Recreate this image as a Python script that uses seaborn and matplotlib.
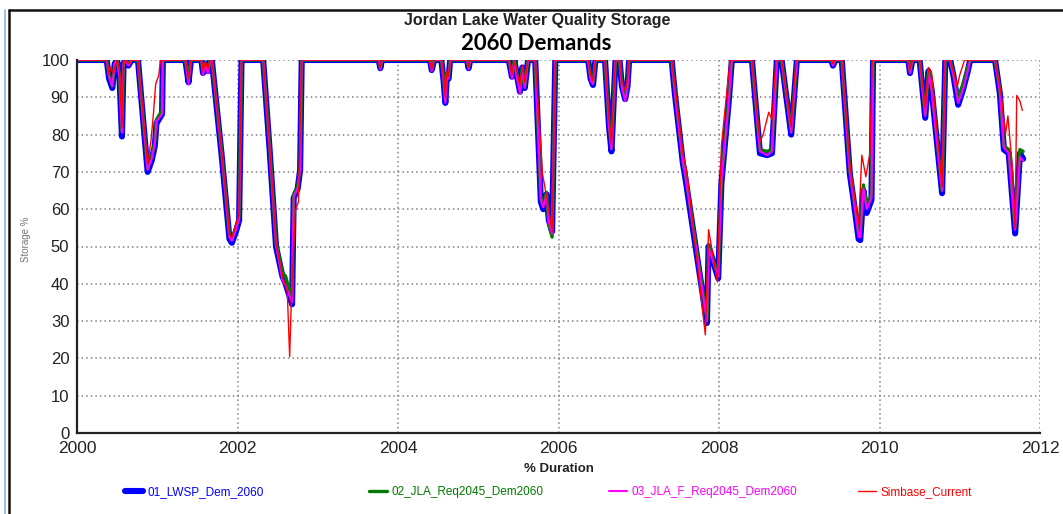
import matplotlib
matplotlib.use("Agg")
import matplotlib.pyplot as plt
from matplotlib.lines import Line2D
from matplotlib.ticker import MultipleLocator, FuncFormatter
import seaborn as sns
import pandas as pd

# ---- storage traces (decimal year, storage %) ----
lwsp_year = [2000.00, 2000.37, 2000.40, 2000.44, 2000.47, 2000.50, 2000.53, 2000.56, 2000.58, 2000.60,
             2000.64, 2000.68, 2000.76, 2000.88, 2000.93, 2000.97, 2000.99, 2001.06, 2001.07, 2001.35,
             2001.39, 2001.42, 2001.55, 2001.57, 2001.60, 2001.63, 2001.66, 2001.68, 2001.80, 2001.90,
             2001.93, 2001.98, 2002.02, 2002.05, 2002.32, 2002.40, 2002.48, 2002.56, 2002.60, 2002.68,
             2002.70, 2002.75, 2002.78, 2002.80, 2003.76, 2003.78, 2003.80, 2004.40, 2004.42, 2004.45,
             2004.54, 2004.57, 2004.59, 2004.61, 2004.63, 2004.65, 2004.86, 2004.88, 2004.90, 2005.38,
             2005.42, 2005.45, 2005.48, 2005.52, 2005.55, 2005.58, 2005.62, 2005.71, 2005.78, 2005.81,
             2005.85, 2005.88, 2005.92, 2005.96, 2006.37, 2006.40, 2006.43, 2006.46, 2006.58, 2006.63,
             2006.66, 2006.69, 2006.71, 2006.76, 2006.79, 2006.83, 2006.86, 2006.88, 2007.41, 2007.45,
             2007.55, 2007.58, 2007.85, 2007.87, 2007.99, 2008.03, 2008.12, 2008.16, 2008.41, 2008.51,
             2008.60, 2008.66, 2008.72, 2008.78, 2008.90, 2008.97, 2009.40, 2009.42, 2009.45, 2009.53,
             2009.63, 2009.67, 2009.74, 2009.76, 2009.80, 2009.84, 2009.90, 2009.92, 2010.36, 2010.38,
             2010.41, 2010.50, 2010.57, 2010.61, 2010.65, 2010.78, 2010.82, 2010.88, 2010.92, 2010.98,
             2011.04, 2011.10, 2011.13, 2011.44, 2011.50, 2011.55, 2011.61, 2011.69, 2011.75, 2011.79]
lwsp_pct = [100, 100, 95, 92.5, 99, 100, 95, 79.5, 99, 100,
            98.5, 100, 100, 70, 73, 77, 83, 85.5, 100, 100,
            94, 100, 100, 96.5, 99, 97, 100, 100, 75, 52,
            51, 54, 57, 100, 100, 76, 50, 42, 40, 34.5,
            63, 65.5, 70.5, 100, 100, 97.8, 100, 100, 97.3, 100,
            100, 94, 88.5, 96, 95, 100, 100, 97.8, 100, 100,
            95.5, 100, 96, 91.5, 98, 92.5, 100, 100, 62, 60,
            64, 57, 54, 100, 100, 95, 93.3, 100, 100, 82,
            75.5, 90, 100, 100, 93, 89.5, 93, 100, 100, 91,
            72.3, 68.5, 29.5, 50, 41.5, 67, 88.5, 100, 100, 75,
            74.5, 75, 100, 100, 80, 100, 100, 98.5, 100, 100,
            69.5, 63.5, 52, 51.7, 65, 59, 62.5, 100, 100, 96.5,
            100, 100, 84.5, 97, 92, 64.3, 100, 100, 96, 88,
            92, 97, 100, 100, 91, 76, 75, 53.5, 75, 73.5]

jla_year = list(lwsp_year)
jla_pct = [100, 100, 96, 93, 99, 100, 96, 81, 99, 100,
           99, 100, 100, 71, 74, 78, 84, 86.5, 100, 100,
           95, 100, 100, 97, 99, 97.5, 100, 100, 76, 53,
           52, 55, 58, 100, 100, 77, 51, 43, 42, 35.5,
           64, 66, 71, 100, 100, 98, 100, 100, 97.5, 100,
           100, 95, 89.5, 96.5, 95.5, 100, 100, 98, 100, 100,
           96, 100, 96.5, 92.5, 98, 93, 100, 100, 63, 61,
           64.5, 56, 52.5, 100, 100, 95.5, 94, 100, 100, 83,
           76.5, 90.5, 100, 100, 93.5, 90.5, 93.5, 100, 100, 92,
           73, 69.5, 30.5, 50.5, 42, 68, 89, 100, 100, 76,
           75.5, 76, 100, 100, 81, 100, 100, 99, 100, 100,
           70.5, 64.5, 53.5, 53, 66.5, 61, 64, 100, 100, 97,
           100, 100, 85.5, 97.5, 93.5, 65, 100, 100, 96.5, 90,
           93.5, 98, 100, 100, 92, 77, 76, 55, 76, 75.5]

jla_f_year = list(lwsp_year)
jla_f_pct = [100, 100, 95.5, 93, 99, 100, 95.5, 80.5, 99, 100,
             98.5, 100, 100, 70.5, 73.5, 77.5, 83.5, 85.5, 100, 100,
             93.5, 100, 100, 96, 99, 96.5, 100, 100, 75.5, 52.5,
             51.5, 54.5, 57.5, 100, 100, 76.5, 50.5, 41, 39.5, 35,
             63.5, 65.5, 70.5, 100, 100, 97.5, 100, 100, 97, 100,
             100, 94, 88.5, 96, 95, 100, 100, 97.5, 100, 100,
             95, 100, 95.5, 91, 98, 92.5, 100, 100, 62.5, 60.5,
             64, 56.5, 53.5, 100, 100, 94.5, 93.5, 100, 100, 82,
             76, 90, 100, 100, 92.5, 89, 92.5, 100, 100, 91,
             72.5, 69, 30, 49.5, 42, 67.5, 88.5, 100, 100, 75.5,
             74.5, 75.5, 100, 100, 80.5, 100, 100, 98.5, 100, 100,
             70, 64, 52.5, 52.5, 65.5, 60, 63, 100, 100, 96.5,
             100, 100, 85, 97, 91.5, 65, 100, 100, 96, 88.5,
             92, 97, 100, 100, 91.5, 76.5, 75, 54.5, 74, 73]

sim_year = [2000.00, 2000.37, 2000.40, 2000.42, 2000.45, 2000.50, 2000.53, 2000.56, 2000.58, 2000.60,
            2000.64, 2000.68, 2000.76, 2000.88, 2000.92, 2000.95, 2000.98, 2001.02, 2001.04, 2001.35,
            2001.39, 2001.42, 2001.55, 2001.57, 2001.60, 2001.63, 2001.66, 2001.68, 2001.80, 2001.90,
            2001.93, 2001.98, 2002.02, 2002.05, 2002.32, 2002.40, 2002.48, 2002.56, 2002.62, 2002.65,
            2002.67, 2002.72, 2002.76, 2002.80, 2003.76, 2003.78, 2003.80, 2004.40, 2004.42, 2004.45,
            2004.54, 2004.57, 2004.59, 2004.61, 2004.63, 2004.65, 2004.86, 2004.88, 2004.90, 2005.38,
            2005.42, 2005.45, 2005.48, 2005.52, 2005.55, 2005.58, 2005.62, 2005.71, 2005.80, 2005.83,
            2005.86, 2005.89, 2005.92, 2005.96, 2006.37, 2006.40, 2006.43, 2006.46, 2006.58, 2006.63,
            2006.66, 2006.69, 2006.71, 2006.76, 2006.79, 2006.83, 2006.86, 2006.88, 2007.41, 2007.45,
            2007.55, 2007.60, 2007.83, 2007.87, 2007.98, 2008.03, 2008.10, 2008.14, 2008.41, 2008.51,
            2008.55, 2008.62, 2008.66, 2008.71, 2008.78, 2008.90, 2008.96, 2009.40, 2009.42, 2009.45,
            2009.53, 2009.63, 2009.67, 2009.74, 2009.78, 2009.83, 2009.88, 2009.91, 2010.36, 2010.38,
            2010.41, 2010.50, 2010.57, 2010.61, 2010.65, 2010.78, 2010.82, 2010.88, 2010.92, 2010.97,
            2011.00, 2011.03, 2011.06, 2011.44, 2011.50, 2011.52, 2011.57, 2011.60, 2011.66, 2011.69,
            2011.71, 2011.75, 2011.78]
sim_pct = [100, 100, 96, 98, 96.5, 100, 97, 82, 99, 100,
           99, 100, 100, 72, 78, 85, 93.5, 96, 100, 100,
           95, 100, 100, 97, 99.5, 97.5, 100, 100, 76, 53,
           52.5, 56, 58.5, 100, 100, 77, 51, 42, 38, 20.5,
           35, 59.5, 62, 100, 100, 98, 100, 100, 97.5, 100,
           100, 95, 90, 97, 95.5, 100, 100, 98, 100, 100,
           96, 100, 97, 93, 98.5, 94, 100, 100, 69.5, 66,
           62, 58, 54, 100, 100, 96, 94.5, 100, 100, 84,
           77.5, 91, 100, 100, 94, 92, 95, 100, 100, 93,
           75, 70, 26.3, 54.5, 40.5, 77, 92, 100, 100, 78,
           80, 86, 84, 100, 100, 82, 100, 100, 99, 100,
           100, 72, 66, 56, 74.5, 68.7, 75, 100, 100, 97.5,
           100, 100, 87, 98, 96.5, 66, 100, 100, 97, 93,
           96, 98, 100, 100, 93, 90, 80, 85, 70, 55,
           90.5, 89, 86.5]

series_names = ["01_LWSP_Dem_2060", "02_JLA_Req2045_Dem2060",
                "03_JLA_F_Req2045_Dem2060", "Simbase_Current"]
series_colors = ["#0000ff", "#007a00", "#ff00ff", "#ff0000"]
series_widths = [4.4, 2.4, 1.5, 1.0]

frames = [
    pd.DataFrame({"year": lwsp_year, "pct": lwsp_pct}),
    pd.DataFrame({"year": jla_year, "pct": jla_pct}),
    pd.DataFrame({"year": jla_f_year, "pct": jla_f_pct}),
    pd.DataFrame({"year": sim_year, "pct": sim_pct}),
]

sns.set_style("white")
plt.rcParams["font.family"] = ["Liberation Sans", "DejaVu Sans"]

fig = plt.figure(figsize=(10.63, 5.14), dpi=100)
ax = fig.add_axes([77 / 1063, 1 - 433 / 514, (1040 - 77) / 1063, (433 - 60) / 514])

handles = []
for df, name, col, lw in zip(frames, series_names, series_colors, series_widths):
    sns.lineplot(data=df, x="year", y="pct", ax=ax, sort=False, estimator=None,
                 color=col, linewidth=lw, solid_joinstyle="round",
                 solid_capstyle="round", legend=False)
    handles.append(Line2D([], [], color=col, linewidth=lw, solid_capstyle="round"))

ax.set_xlim(2000, 2012)
ax.set_ylim(0, 100)
ax.xaxis.set_major_locator(MultipleLocator(2))
ax.xaxis.set_minor_locator(MultipleLocator(1))
ax.yaxis.set_major_locator(MultipleLocator(10))
ax.yaxis.set_minor_locator(MultipleLocator(5))
ax.xaxis.set_major_formatter(FuncFormatter(lambda v, p: f"{int(round(v))}"))

ax.grid(True, which="major", color="#808080", linestyle=(0, (1, 2)), linewidth=1.1)
ax.set_axisbelow(True)
for side in ("top", "right"):
    ax.spines[side].set_visible(False)
for side in ("left", "bottom"):
    ax.spines[side].set_color("#222222")
    ax.spines[side].set_linewidth(1.6)

ax.tick_params(axis="both", which="major", direction="inout", length=7, width=1.3,
               color="#222222", labelcolor="#222222")
ax.tick_params(axis="both", which="minor", direction="inout", length=5, width=1.1,
               color="#222222")
ax.tick_params(axis="y", labelsize=12, pad=2)
ax.tick_params(axis="x", labelsize=12.5, pad=2.5)

ax.set_xlabel("% Duration", fontsize=9.5, fontweight="bold", color="#222222", labelpad=5)
ax.set_ylabel("Storage %", fontsize=7, color="#777777")
ax.yaxis.set_label_coords(-46 / 963, 0.52)

fig.text(537 / 1063, 1 - 20 / 514, "Jordan Lake Water Quality Storage",
         ha="center", va="center", fontsize=11.5, fontweight="bold", color="#222222",
         family=["Liberation Sans Narrow", "Liberation Sans", "DejaVu Sans"])
fig.text(536 / 1063, 1 - 43 / 514, "2060 Demands",
         ha="center", va="center", fontsize=16, fontweight="bold", color="black",
         family=["Lato", "DejaVu Sans"])

# legend entries spread along the bottom row
legend_x = [125, 369, 609, 858]
for h, name, col, lx in zip(handles, series_names, series_colors, legend_x):
    lg = fig.legend([h], [name], loc="center left", bbox_to_anchor=(lx / 1063, 1 - 492 / 514),
                    frameon=False, fontsize=8.5, handlelength=1.5, handletextpad=0.4,
                    borderpad=0, borderaxespad=0)
    for t in lg.get_texts():
        t.set_color(col)

# surrounding frame
fig.add_artist(Line2D([9 / 1063, 1], [1 - 10 / 514, 1 - 10 / 514], transform=fig.transFigure,
                      color="#111111", linewidth=1.8))
fig.add_artist(Line2D([9 / 1063, 9 / 1063], [0, 1 - 10 / 514], transform=fig.transFigure,
                      color="#111111", linewidth=1.8))
fig.add_artist(Line2D([5 / 1063, 5 / 1063], [0, 1 - 10 / 514], transform=fig.transFigure,
                      color="#8db8e0", linewidth=1.2))

fig.savefig("out.png", dpi=100)
